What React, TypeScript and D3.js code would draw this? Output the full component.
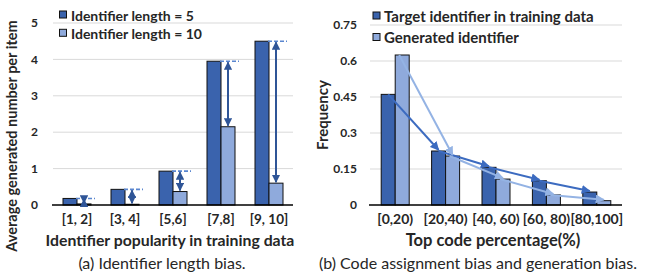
import React from "react";
import * as d3 from "d3";

const catsA = ["[1, 2]", "[3, 4]", "[5,6]", "[7,8]", "[9, 10]"];
const len5 = [0.18, 0.43, 0.93, 3.95, 4.5];
const len10 = [0.03, 0.02, 0.37, 2.15, 0.6];
const ticksA = [0, 1, 2, 3, 4, 5];
const legendA = ["Identifier length = 5", "Identifier length = 10"];

const catsB = ["[0,20)", "[20,40)", "[40, 60)", "[60, 80)", "[80,100]"];
const target = [0.461, 0.225, 0.157, 0.101, 0.054];
const generated = [0.625, 0.204, 0.108, 0.042, 0.018];
const ticksB = [0, 0.15, 0.3, 0.45, 0.6, 0.75];
const legendB = ["Target identifier in training data", "Generated identifier"];

const DARK = "#3A63AD";
const LIGHT = "#8FAADC";
const FONT = "Lato, 'Open Sans', sans-serif";
const TXT = "#262626";

export default function App() {
  const W = 647, H = 275;
  // Left chart
  const xA = d3.scaleBand<string>().domain(catsA).range([53, 293]);
  const yA = d3.scaleLinear().domain([0, 5]).range([205, 23]);
  const bw = 14;
  // Right chart
  const xB = d3.scaleBand<string>().domain(catsB).range([370, 622]);
  const yB = d3.scaleLinear().domain([0, 0.75]).range([205, 25]);

  const cA = (c: string) => (xA(c) as number) + xA.bandwidth() / 2;
  const cB = (c: string) => (xB(c) as number) + xB.bandwidth() / 2;

  const seg = d3.line<[number, number]>();

  return (
    <svg width={W} height={H} style={{ position: "absolute", left: 0, top: 0, background: "#fff" }} fontFamily={FONT}>
      <defs>
        <marker id="ahA" viewBox="0 0 10 10" refX="9" refY="5" markerWidth="4.2" markerHeight="4.2" orient="auto-start-reverse" markerUnits="strokeWidth">
          <path d="M0,0 L10,5 L0,10 z" fill="#2F5597" />
        </marker>
        <marker id="ahD" viewBox="0 0 10 10" refX="9" refY="5" markerWidth="4.5" markerHeight="4.5" orient="auto" markerUnits="strokeWidth">
          <path d="M0,0 L10,5 L0,10 z" fill="#3C6BC0" />
        </marker>
        <marker id="ahL" viewBox="0 0 10 10" refX="9" refY="5" markerWidth="4.5" markerHeight="4.5" orient="auto" markerUnits="strokeWidth">
          <path d="M0,0 L10,5 L0,10 z" fill="#94B3E4" />
        </marker>
      </defs>

      {/* ===== Left chart ===== */}
      {ticksA.map((t) => (
        <g key={"ga" + t}>
          {t > 0 && <line x1={53} x2={293} y1={yA(t)} y2={yA(t)} stroke="#d9d9d9" strokeWidth={1} />}
          <text x={38} y={yA(t)} dy="0.35em" textAnchor="end" fontSize={12} fontWeight={700} fill={TXT}>{t}</text>
        </g>
      ))}
      {catsA.map((c, i) => {
        const cx = cA(c);
        return (
          <g key={"ba" + c}>
            <rect x={cx - bw} y={yA(len5[i])} width={bw} height={yA(0) - yA(len5[i])} fill={DARK} stroke="#111" strokeWidth={1} />
            <rect x={cx} y={yA(len10[i])} width={bw} height={yA(0) - yA(len10[i])} fill={LIGHT} stroke="#111" strokeWidth={1} />
          </g>
        );
      })}
      <line x1={52} x2={293} y1={yA(0)} y2={yA(0)} stroke="#000" strokeWidth={1.3} />
      {catsA.map((c, i) => {
        const cx = cA(c);
        const x0 = cx + bw / 2;
        return (
          <g key={"ar" + c}>
            <line x1={cx - 1} x2={cx + bw + 4} y1={yA(len5[i])} y2={yA(len5[i])} stroke="#5A86CF" strokeWidth={1.6} strokeDasharray="4,2" />
            <line x1={x0} x2={x0} y1={yA(len5[i]) + 1} y2={yA(len10[i]) - 1} stroke="#2F5597" strokeWidth={2} markerStart="url(#ahA)" markerEnd="url(#ahA)" />
          </g>
        );
      })}
      {catsA.map((c) => (
        <text key={"xa" + c} x={cA(c)} y={224} textAnchor="middle" fontSize={13.5} fontWeight={700} fill={TXT}>{c}</text>
      ))}
      <text x={170} y={246} textAnchor="middle" fontSize={15.8} fontWeight={700} fill={TXT}>Identifier popularity in training data</text>
      <text x={162} y={269} textAnchor="middle" fontSize={16} fill={TXT}>(a) Identifier length bias.</text>
      <text transform="translate(17,136) rotate(-90)" textAnchor="middle" fontSize={14.5} fontWeight={700} fill={TXT}>Average generated number per item</text>
      {legendA.map((l, i) => (
        <g key={"la" + i}>
          <rect x={59.5} y={11 + i * 18.3} width={7} height={7} fill={i === 0 ? DARK : LIGHT} stroke="#111" strokeWidth={1} />
          <text x={71} y={20.5 + i * 18.3} fontSize={14} fontWeight={700} fill={TXT}>{l}</text>
        </g>
      ))}

      {/* ===== Right chart ===== */}
      {ticksB.map((t) => (
        <g key={"gb" + t}>
          {t > 0 && <line x1={370} x2={622} y1={yB(t)} y2={yB(t)} stroke="#d9d9d9" strokeWidth={1} />}
          <text x={357} y={yB(t)} dy="0.35em" textAnchor="end" fontSize={12} fontWeight={700} fill={TXT}>{t}</text>
        </g>
      ))}
      {catsB.map((c, i) => {
        const cx = cB(c);
        return (
          <g key={"bb" + c}>
            <rect x={cx - bw} y={yB(target[i])} width={bw} height={yB(0) - yB(target[i])} fill={DARK} stroke="#111" strokeWidth={1} />
            <rect x={cx} y={yB(generated[i])} width={bw} height={yB(0) - yB(generated[i])} fill={LIGHT} stroke="#111" strokeWidth={1} />
          </g>
        );
      })}
      <line x1={369} x2={622} y1={yB(0)} y2={yB(0)} stroke="#000" strokeWidth={1.3} />
      {catsB.slice(1).map((c, j) => {
        const p = catsB[j];
        const a: [number, number] = [cB(p) - bw / 2, yB(target[j])];
        const b: [number, number] = [cB(c) - bw / 2, yB(target[j + 1]) - 1];
        return <path key={"ad" + c} d={seg([a, b]) as string} stroke="#3C6BC0" strokeWidth={2} fill="none" markerEnd="url(#ahD)" />;
      })}
      {catsB.slice(1).map((c, j) => {
        const p = catsB[j];
        const a: [number, number] = [cB(p) + bw / 2 - 3, yB(generated[j])];
        const b: [number, number] = [cB(c) + bw / 2, yB(generated[j + 1]) - 1];
        return <path key={"al" + c} d={seg([a, b]) as string} stroke="#94B3E4" strokeWidth={2} fill="none" markerEnd="url(#ahL)" />;
      })}
      {catsB.map((c) => (
        <text key={"xb" + c} x={cB(c)} y={224} textAnchor="middle" fontSize={14} fontWeight={700} fill={TXT}>{c}</text>
      ))}
      <text x={493} y={246} textAnchor="middle" fontSize={16.5} fontWeight={700} fill={TXT}>Top code percentage(%)</text>
      <text x={478} y={269} textAnchor="middle" fontSize={16} fill={TXT}>(b) Code assignment bias and generation bias.</text>
      <text transform="translate(328,115) rotate(-90)" textAnchor="middle" fontSize={15} fontWeight={700} fill={TXT}>Frequency</text>
      {legendB.map((l, i) => (
        <g key={"lb" + i}>
          <rect x={373} y={12 + i * 21.5} width={7} height={7} fill={i === 0 ? DARK : LIGHT} stroke="#111" strokeWidth={1} />
          <text x={384} y={21.5 + i * 21.5} fontSize={15} fontWeight={700} fill={TXT}>{l}</text>
        </g>
      ))}
    </svg>
  );
}
